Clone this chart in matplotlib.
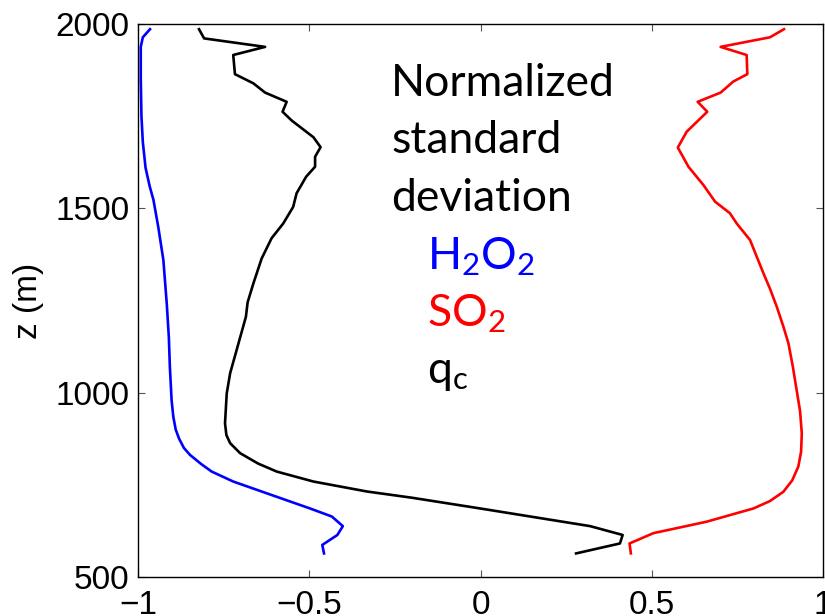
import matplotlib
matplotlib.use("Agg")
import matplotlib.pyplot as plt

# H2O2 (blue)
h2o2_x = [-0.965, -0.986, -0.992, -0.992, -0.99, -0.986, -0.978, -0.966, -0.955, -0.941,
          -0.926, -0.916, -0.910, -0.907, -0.902, -0.897, -0.890, -0.880, -0.866, -0.848,
          -0.815, -0.785, -0.722, -0.624, -0.498, -0.434, -0.402, -0.418, -0.462, -0.457]
h2o2_z = [1986, 1964, 1938, 1850, 1750, 1680, 1610, 1560, 1523, 1450,
          1360, 1240, 1150, 1070, 980, 935, 900, 875, 850, 831,
          806, 786, 759, 727, 686, 664, 638, 614, 587, 564]

# q_c (black)
qc_x = [-0.822, -0.807, -0.629, -0.722, -0.717, -0.663, -0.629, -0.566, -0.578, -0.551,
        -0.488, -0.467, -0.483, -0.483, -0.509, -0.537, -0.547, -0.576, -0.610, -0.639,
        -0.663, -0.680, -0.685, -0.712, -0.731, -0.741, -0.746, -0.742, -0.731, -0.702,
        -0.650, -0.595, -0.488, -0.332, -0.200, -0.0015, 0.320, 0.415, 0.407, 0.279]
qc_z = [1986, 1961, 1938, 1916, 1864, 1839, 1814, 1789, 1762, 1738,
        1693, 1666, 1640, 1613, 1586, 1541, 1504, 1459, 1419, 1364,
        1297, 1245, 1206, 1116, 1053, 998, 917, 885, 863, 836,
        808, 786, 759, 732, 715, 686, 638, 614, 591, 564]

# SO2 (red)
so2_x = [0.886, 0.845, 0.701, 0.777, 0.779, 0.738, 0.701, 0.634, 0.662, 0.602,
         0.576, 0.607, 0.651, 0.685, 0.728, 0.748, 0.787, 0.806, 0.826, 0.846,
         0.865, 0.884, 0.899, 0.912, 0.923, 0.933, 0.938, 0.936, 0.928, 0.910,
         0.884, 0.845, 0.797, 0.660, 0.505, 0.435, 0.439]
so2_z = [1986, 1964, 1938, 1916, 1864, 1844, 1814, 1789, 1762, 1708,
         1665, 1613, 1563, 1518, 1487, 1459, 1414, 1370, 1324, 1280,
         1233, 1180, 1134, 1070, 1007, 950, 890, 840, 800, 762,
         731, 706, 686, 650, 619, 591, 564]

xticks = [-1, -0.5, 0, 0.5, 1]
xticklabels = ["\u22121", "\u22120.5", "0", "0.5", "1"]
yticks = [500, 1000, 1500, 2000]

plt.rcParams['font.family'] = ['Liberation Sans', 'DejaVu Sans']
plt.rcParams['mathtext.default'] = 'regular'

fig = plt.figure(figsize=(8.25, 6.16), dpi=100)
ax = fig.add_axes([0.1673, 0.0633, 0.8303, 0.8977])

lw = 1.9
ax.plot(h2o2_x, h2o2_z, color='#0000ff', lw=lw)
ax.plot(qc_x, qc_z, color='black', lw=lw)
ax.plot(so2_x, so2_z, color='#ff0000', lw=lw)

ax.set_xlim(-1, 1)
ax.set_ylim(500, 2000)
ax.set_xticks(xticks)
ax.set_xticklabels(xticklabels)
ax.set_yticks(yticks)
ax.tick_params(direction='in', length=5, width=0.8, color='#555555',
               labelsize=24, top=True, right=True)
ax.tick_params(axis='x', pad=9)
ax.tick_params(axis='y', pad=6)
for s in ax.spines.values():
    s.set_linewidth(1.0)
ax.set_ylabel('z (m)', fontsize=24, labelpad=8)

tf = dict(family=['Lato', 'DejaVu Sans'], fontweight='normal', fontsize=32,
          transform=ax.transAxes, va='baseline', ha='left')
def ax_pos(px, py):
    return ((px - 138) / 685.0, (577 - py) / 553.0)

x0, y0 = ax_pos(391, 96)
ax.text(x0, y0, 'Normalized', color='black', **tf)
x0, y0 = ax_pos(391, 153)
ax.text(x0, y0, 'standard', color='black', **tf)
x0, y0 = ax_pos(391, 211)
ax.text(x0, y0, 'deviation', color='black', **tf)
x0, y0 = ax_pos(427, 269)
ax.text(x0, y0, 'H$_2$O$_2$', color='#0000ff', **tf)
x0, y0 = ax_pos(427, 326)
ax.text(x0, y0, 'SO$_2$', color='#ff0000', **tf)
x0, y0 = ax_pos(427, 383)
ax.text(x0, y0, 'q$_c$', color='black', **tf)

fig.savefig('out.png', dpi=100)
